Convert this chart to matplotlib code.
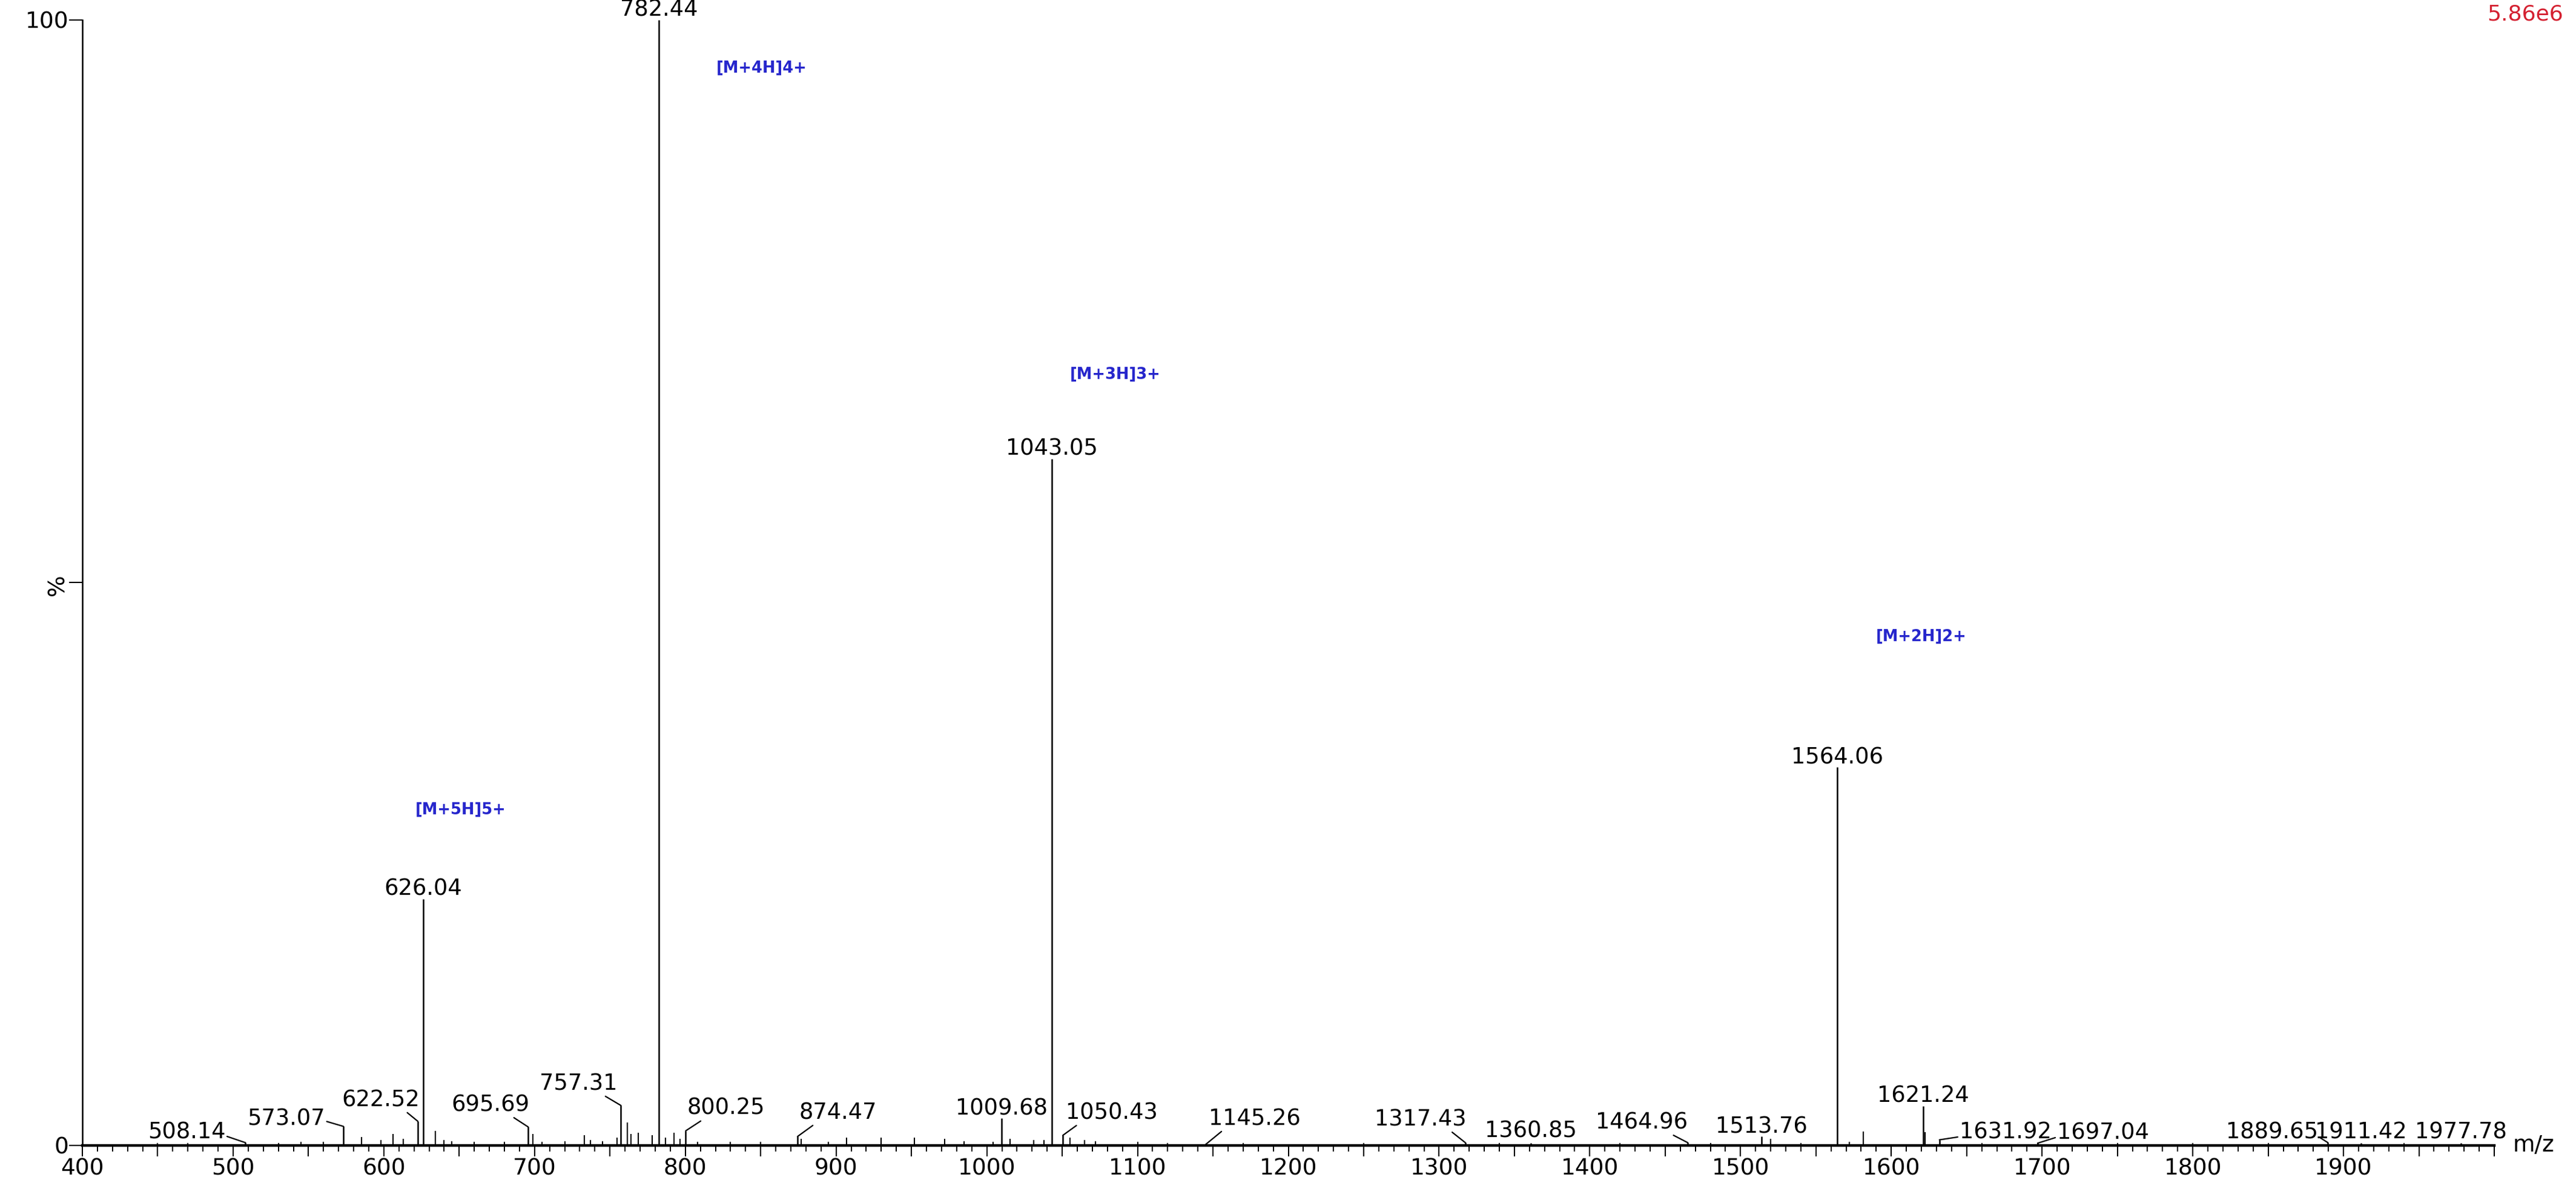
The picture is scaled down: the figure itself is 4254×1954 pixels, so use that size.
import matplotlib
matplotlib.use("Agg")
import matplotlib.pyplot as plt
from matplotlib.ticker import MultipleLocator, FuncFormatter

# labelled peaks (m/z, relative intensity %)
peak_mz = [508.14, 573.07, 622.52, 626.04, 695.69, 757.31, 782.44, 800.25,
           874.47, 1009.68, 1043.05, 1050.43, 1145.26, 1317.43, 1360.85,
           1464.96, 1513.76, 1564.06, 1621.24, 1631.92, 1697.04, 1889.65,
           1911.42, 1977.78]
peak_int = [0.25, 1.7, 2.15, 21.9, 1.65, 3.55, 100.0, 1.3,
            0.8, 2.4, 61.0, 0.9, 0.1, 0.25, 0.2,
            0.25, 0.8, 33.6, 3.5, 0.5, 0.2, 0.25,
            0.2, 0.2]

# smaller unlabelled peaks / baseline noise
minor_mz = [450, 470, 530, 545, 560, 585, 598, 606, 613, 634, 640, 645, 660,
            680, 699, 705, 720, 733, 737, 745, 754.6, 761.4, 764, 768.7, 778,
            787, 792.5, 796.4, 808, 830, 850, 877, 895, 907, 930, 952, 972,
            985, 1004, 1015.5, 1031, 1038, 1055, 1065, 1072, 1100, 1120, 1170,
            1250, 1340, 1420, 1480, 1519.9, 1540, 1572, 1581.5, 1622.5, 1660,
            1750, 1800, 1850, 1940]
minor_int = [0.2, 0.2, 0.2, 0.3, 0.3, 0.75, 0.5, 1.0, 0.6, 1.3, 0.5, 0.4, 0.3,
             0.3, 1.0, 0.3, 0.4, 0.9, 0.5, 0.4, 0.7, 2.05, 1.0, 1.15, 0.9,
             0.7, 1.15, 0.6, 0.3, 0.3, 0.3, 0.6, 0.3, 0.7, 0.7, 0.7, 0.6,
             0.4, 0.3, 0.6, 0.5, 0.5, 0.7, 0.5, 0.4, 0.3, 0.2, 0.2,
             0.2, 0.2, 0.2, 0.2, 0.6, 0.2, 0.3, 1.25, 1.2, 0.2,
             0.2, 0.2, 0.2, 0.2]

ion_labels = ["[M+5H]5+", "[M+4H]4+", "[M+3H]3+", "[M+2H]2+"]
ion_pos = [(620.9, 29.8), (820.5, 95.7), (1055.0, 68.5), (1589.6, 45.2)]

# label layout: (dx px, dy px, ha, leader relpos or None)
label_layout = {
    508.14: (-33, 7, "right", (1, 0.33)),
    573.07: (-30, 2, "right", (1, 0.4)),
    622.52: (3, 25, "right", (0.78, 0.1)),
    695.69: (2, 26, "right", (0.77, 0)),
    757.31: (-6, 26, "right", (0.81, 0)),
    800.25: (2, 27, "left", (0.21, 0)),
    874.47: (2, 29, "left", (0.21, 0)),
    1050.43: (5, 27, "left", (0.14, 0)),
    1145.26: (5, 32, "left", (0.16, 0)),
    1317.43: (2, 28, "right", (0.82, 0)),
    1360.85: (0, 10, "center", None),
    1464.96: (0, 23, "right", (0.81, 0)),
    1631.92: (33, 2, "left", (0, 0.3)),
    1697.04: (32, 7, "left", (0, 0.3)),
    1889.65: (-16, 7, "right", (1, 0.3)),
    1911.42: (0, 8, "center", None),
    1977.78: (0, 8, "center", None),
}

plt.rcParams["font.family"] = ["DejaVu Sans"]

fig = plt.figure(figsize=(42.54, 19.54), dpi=100)
ax = fig.add_axes([0.03197, 0.03173, 0.9363, 0.9514])

ax.vlines(minor_mz, 0, minor_int, color="black", lw=1.5)
ax.vlines(peak_mz, 0, peak_int, color="black", lw=1.8)

for mz, h in zip(peak_mz, peak_int):
    dx, dy, ha, rel = label_layout.get(mz, (0, 6, "center", None))
    props = None
    if rel is not None:
        props = dict(arrowstyle="-", color="black", lw=1.6,
                     shrinkA=0, shrinkB=0, relpos=rel)
    ax.annotate(f"{mz:.2f}", xy=(mz, h), xytext=(dx, dy),
                textcoords="offset pixels", ha=ha, va="baseline",
                fontsize=26.5, color="black", arrowprops=props,
                annotation_clip=False)

for lab, (x, y) in zip(ion_labels, ion_pos):
    ax.text(x, y, lab, ha="left", va="center", fontsize=18.5,
            fontweight="bold", color="#2626cc")

ax.set_xlim(400, 2000)
ax.set_ylim(0, 100)

ax.xaxis.set_major_locator(MultipleLocator(50))
ax.xaxis.set_minor_locator(MultipleLocator(10))
ax.xaxis.set_major_formatter(FuncFormatter(
    lambda v, p: f"{int(v)}" if v % 100 == 0 and v < 2000 else ""))
ax.tick_params(axis="x", which="major", direction="out", length=13,
               width=1.5, labelsize=27, pad=2)
ax.tick_params(axis="x", which="minor", direction="out", length=7, width=1.4)

ax.set_yticks([0, 50, 100], labels=["0", "%", "100"])
ax.get_yticklabels()[1].set_rotation(90)
ax.tick_params(axis="y", direction="out", length=16, width=1.5,
               labelsize=27, pad=0)

ax.spines["top"].set_visible(False)
ax.spines["right"].set_visible(False)
ax.spines["left"].set_linewidth(1.8)
ax.spines["bottom"].set_linewidth(3.2)

ax.text(1.0078, 0, "m/z", transform=ax.transAxes, ha="left",
        va="center", fontsize=27)
fig.text(0.995, 1 - 33 / 1954, "5.86e6", ha="right", va="baseline",
         fontsize=26, color="#d42030")

fig.savefig("out.png", dpi=100, facecolor="white")
